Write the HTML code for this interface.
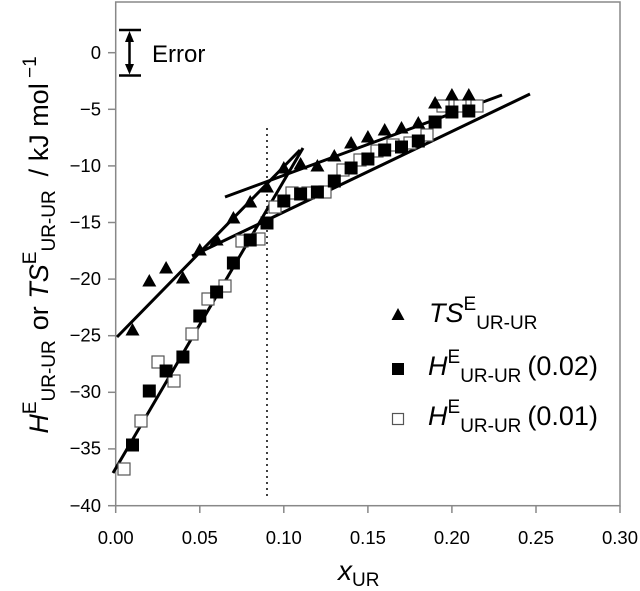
<!DOCTYPE html>
<html><head><meta charset="utf-8"><style>html,body{margin:0;padding:0;background:#fff}svg{display:block}</style></head>
<body>
<svg width="640" height="591" viewBox="0 0 640 591" xmlns="http://www.w3.org/2000/svg" font-family="Liberation Sans, Arial, sans-serif">
<defs>
<polygon id="tri" points="0,-7 7,5.5 -7,5.5" fill="#000"/>
<rect id="fs" x="-6.5" y="-6.5" width="13" height="13" fill="#000"/>
<rect id="os" x="-6" y="-6" width="12" height="12" fill="#fff" stroke="#555" stroke-width="1.2"/>
</defs>
<rect x="115.7" y="2" width="504.3" height="503.7" fill="none" stroke="#888" stroke-width="1.5"/>
<g stroke="#888" stroke-width="1.5">
<line x1="108" y1="52.7" x2="115.7" y2="52.7"/><line x1="108" y1="109.3" x2="115.7" y2="109.3"/>
<line x1="108" y1="165.9" x2="115.7" y2="165.9"/><line x1="108" y1="222.5" x2="115.7" y2="222.5"/>
<line x1="108" y1="279.1" x2="115.7" y2="279.1"/><line x1="108" y1="335.7" x2="115.7" y2="335.7"/>
<line x1="108" y1="392.3" x2="115.7" y2="392.3"/><line x1="108" y1="448.9" x2="115.7" y2="448.9"/>
<line x1="108" y1="505.7" x2="115.7" y2="505.7"/>
<line x1="115.7" y1="505.7" x2="115.7" y2="513"/><line x1="199.8" y1="505.7" x2="199.8" y2="513"/>
<line x1="283.8" y1="505.7" x2="283.8" y2="513"/><line x1="367.9" y1="505.7" x2="367.9" y2="513"/>
<line x1="451.9" y1="505.7" x2="451.9" y2="513"/><line x1="536" y1="505.7" x2="536" y2="513"/>
<line x1="620" y1="505.7" x2="620" y2="513"/>
</g>
<g font-size="18.5" text-anchor="end" fill="#000">
<text x="101" y="59">0</text><text x="101" y="115.5">−5</text><text x="101" y="172">−10</text>
<text x="101" y="228.5">−15</text><text x="101" y="285">−20</text><text x="101" y="341.5">−25</text>
<text x="101" y="398">−30</text><text x="101" y="454.5">−35</text><text x="101" y="512">−40</text>
</g>
<g font-size="18.5" text-anchor="middle" fill="#000">
<text x="115.7" y="544">0.00</text><text x="199.8" y="544">0.05</text><text x="283.8" y="544">0.10</text>
<text x="367.9" y="544">0.15</text><text x="451.9" y="544">0.20</text><text x="536" y="544">0.25</text>
<text x="620" y="544">0.30</text>
</g>
<line x1="267" y1="128" x2="267" y2="497" stroke="#000" stroke-width="1.5" stroke-dasharray="2,4"/>
<g stroke="#000" stroke-width="3" fill="none">
<line x1="113" y1="473" x2="303" y2="148"/>
<line x1="117" y1="337" x2="300" y2="150"/>
<line x1="225" y1="197" x2="502" y2="95"/>
<line x1="192" y1="256" x2="530" y2="94"/>
</g>
<g>
<use href="#os" x="124" y="469"/><use href="#os" x="141" y="421"/><use href="#os" x="158" y="362"/>
<use href="#os" x="174" y="381"/><use href="#os" x="192" y="334"/><use href="#os" x="208" y="299"/>
<use href="#os" x="225" y="286"/><use href="#os" x="242" y="241"/><use href="#os" x="259" y="239"/>
<use href="#os" x="275" y="207"/><use href="#os" x="292" y="193"/><use href="#os" x="308" y="193"/>
<use href="#os" x="325" y="192"/><use href="#os" x="343" y="170"/><use href="#os" x="360" y="160"/>
<use href="#os" x="377" y="151"/><use href="#os" x="393" y="145"/><use href="#os" x="410" y="143"/>
<use href="#os" x="427" y="135"/><use href="#os" x="443" y="106"/><use href="#os" x="460" y="106"/>
<use href="#os" x="477" y="106"/>
</g>
<g>
<use href="#fs" x="132.5" y="445"/><use href="#fs" x="149.3" y="391"/><use href="#fs" x="166.1" y="371"/>
<use href="#fs" x="182.9" y="357"/><use href="#fs" x="199.8" y="316"/><use href="#fs" x="216.6" y="292"/>
<use href="#fs" x="233.4" y="263"/><use href="#fs" x="250.2" y="240"/><use href="#fs" x="267" y="223"/>
<use href="#fs" x="283.8" y="201"/><use href="#fs" x="300.6" y="194"/><use href="#fs" x="317.4" y="192"/>
<use href="#fs" x="334.3" y="181"/><use href="#fs" x="351.1" y="168"/><use href="#fs" x="367.9" y="159"/>
<use href="#fs" x="384.7" y="150"/><use href="#fs" x="401.5" y="147"/><use href="#fs" x="418.3" y="141"/>
<use href="#fs" x="435.1" y="122"/><use href="#fs" x="451.9" y="112"/><use href="#fs" x="468.8" y="111"/>
</g>
<g>
<use href="#tri" x="132.5" y="330"/><use href="#tri" x="149.3" y="281"/><use href="#tri" x="166.1" y="268"/>
<use href="#tri" x="182.9" y="278"/><use href="#tri" x="199.8" y="250"/><use href="#tri" x="216.6" y="240"/>
<use href="#tri" x="233.4" y="218"/><use href="#tri" x="250.2" y="202"/><use href="#tri" x="267" y="187"/>
<use href="#tri" x="283.8" y="168"/><use href="#tri" x="300.6" y="164"/><use href="#tri" x="317.4" y="166"/>
<use href="#tri" x="334.3" y="156"/><use href="#tri" x="351.1" y="143"/><use href="#tri" x="367.9" y="137"/>
<use href="#tri" x="384.7" y="130"/><use href="#tri" x="401.5" y="128"/><use href="#tri" x="418.3" y="123"/>
<use href="#tri" x="435.1" y="103"/><use href="#tri" x="451.9" y="95"/><use href="#tri" x="468.8" y="95"/>
</g>
<g stroke="#000" stroke-width="2.5">
<line x1="119" y1="30" x2="141" y2="30"/><line x1="119" y1="75.5" x2="141" y2="75.5"/>
<line x1="129.5" y1="36" x2="129.5" y2="70"/>
</g>
<polygon points="129.5,31 125,42 134,42" fill="#000"/>
<polygon points="129.5,74.5 125,64 134,64" fill="#000"/>
<text x="152" y="62" font-size="24" fill="#000">Error</text>
<polygon points="398,308 404.5,320 391.5,320" fill="#000"/>
<rect x="392" y="363" width="12" height="12" fill="#000"/>
<rect x="392.5" y="413.5" width="11" height="11" fill="#fff" stroke="#555" stroke-width="1.2"/>
<text x="429" y="322" font-size="27" fill="#000"><tspan font-style="italic">TS</tspan><tspan font-size="19" dy="-12">E</tspan><tspan font-size="19" dy="19">UR-UR</tspan></text>
<text x="428" y="375" font-size="27" fill="#000"><tspan font-style="italic">H</tspan><tspan font-size="19" dy="-12">E</tspan><tspan font-size="19" dy="19">UR-UR</tspan><tspan dx="6" dy="-7">(0.02)</tspan></text>
<text x="428" y="425" font-size="27" fill="#000"><tspan font-style="italic">H</tspan><tspan font-size="19" dy="-12">E</tspan><tspan font-size="19" dy="19">UR-UR</tspan><tspan dx="6" dy="-7">(0.01)</tspan></text>
<text transform="translate(48,245) rotate(-90)" text-anchor="middle" font-size="27" fill="#000"><tspan font-style="italic">H</tspan><tspan font-size="19" dy="-12">E</tspan><tspan font-size="19" dy="19">UR-UR</tspan><tspan dx="10" dy="-7">or </tspan><tspan font-style="italic">TS</tspan><tspan font-size="19" dy="-12">E</tspan><tspan font-size="19" dy="19">UR-UR</tspan><tspan dx="14" dy="-7">/  kJ mol</tspan><tspan font-size="19" dy="-12"> −1</tspan></text>
<text x="338" y="580" font-size="28" fill="#000"><tspan font-style="italic">x</tspan><tspan font-size="19" dy="6">UR</tspan></text>
</svg>
</body></html>
